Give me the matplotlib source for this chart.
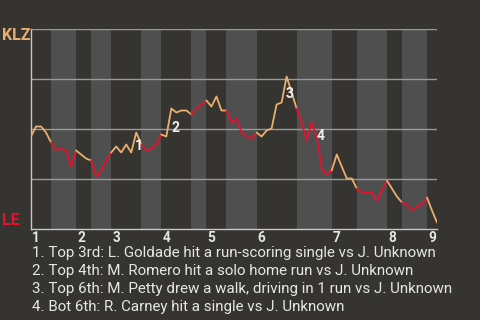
import matplotlib
matplotlib.use("Agg")
import matplotlib.pyplot as plt

plt.rcParams["font.family"] = ["Roboto", "DejaVu Sans"]

away_team = "KLZ"
home_team = "LE"

# KLZ win probability (%) after each plate appearance
win_prob = [46, 51, 51, 48, 43, 39, 40, 39, 31, 39,
            37, 35, 34, 26, 29, 34, 38, 41, 38, 42,
            38, 48, 42, 39, 40, 42, 47, 46, 60, 58,
            59, 59, 57, 60, 62, 64, 61, 66, 59, 59,
            53, 55, 48, 46, 45, 48, 46, 49, 50, 62,
            63, 76, 68, 60, 53, 44, 53, 46, 30, 27,
            29, 37, 31, 25, 25, 20, 18, 18, 18, 14,
            19, 24, 20, 16, 13, 12, 9, 11, 12, 15.5,
            9, 3]

# plate-appearance index where each half inning begins (top 1st, bot 1st, ...)
half_starts = [0, 4, 9, 12, 16, 22, 26, 32, 35, 39, 45, 53, 60, 65, 71, 74, 79]
inning_labels = ["1", "2", "3", "4", "5", "6", "7", "8", "9"]

# key plays: index of the plate appearance and its description
event_index = [21, 28, 51, 57]
event_text = [
    "Top 3rd: L. Goldade hit a run-scoring single vs J. Unknown",
    "Top 4th: M. Romero hit a solo home run vs J. Unknown",
    "Top 6th: M. Petty drew a walk, driving in 1 run vs J. Unknown",
    "Bot 6th: R. Carney hit a single vs J. Unknown",
]

BG = "#363430"
BAND = "#4f4f4f"
AWAY_C = "#e8b06c"
HOME_C = "#e8112d"
TEXT_C = "#e6e6e6"

fig = plt.figure(figsize=(4.8, 3.2), dpi=100, facecolor=BG)
ax = fig.add_axes([31 / 480, (320 - 228.5) / 320, 406 / 480, 200 / 320])
ax.set_facecolor(BG)

n_last = len(win_prob) - 1
xs = list(range(len(win_prob)))
bounds = half_starts + [n_last]

# half-inning shading: bottom halves lighter
for k in range(len(half_starts)):
    if k % 2 == 1:
        ax.axvspan(bounds[k], bounds[k + 1], color=BAND, lw=0, zorder=0)

# grid lines
for g in (25, 50, 75, 100):
    ax.axhline(g, color="#9a9a9a", lw=1.0, zorder=1)

# win probability line, coloured by the batting team
for k in range(len(half_starts)):
    s, e = bounds[k], bounds[k + 1]
    col = AWAY_C if k % 2 == 0 else HOME_C
    ax.plot(xs[s:e + 1], win_prob[s:e + 1], color=col, lw=1.3,
            solid_joinstyle="round", solid_capstyle="round", zorder=3)

# key play markers
offsets = [(3, -14), (4, -20), (3, -18), (4, 0)]
for j, (idx, off) in enumerate(zip(event_index, offsets)):
    ax.annotate(str(j + 1), xy=(idx, win_prob[idx]), xytext=off,
                textcoords="offset pixels", ha="center", va="center",
                fontsize=10, fontweight="bold", color="#f0f0f0", zorder=4)

ax.set_xlim(0, n_last)
ax.set_ylim(0, 100)
ax.set_yticks([])

inning_ticks = [half_starts[2 * i] + 1 for i in range(len(inning_labels))]
ax.set_xticks(inning_ticks)
ax.set_xticklabels(inning_labels, fontsize=9.8, fontweight="bold", color=TEXT_C)
ax.tick_params(axis="x", length=0, pad=2)

for side in ("top", "right"):
    ax.spines[side].set_visible(False)
for side in ("left", "bottom"):
    ax.spines[side].set_color("#c8c8c8")
    ax.spines[side].set_linewidth(1.0)

fig.text(2 / 480, 1 - 28 / 320, away_team, ha="left", va="top",
         fontsize=11.5, fontweight="bold", color=AWAY_C)
fig.text(2 / 480, 1 - 225 / 320, home_team, ha="left", va="baseline",
         fontsize=11.5, fontweight="bold", color=HOME_C)

for j, txt in enumerate(event_text):
    fig.text(32 / 480, 1 - (253 + 18 * j) / 320, f"{j + 1}. {txt}",
             ha="left", va="center", fontsize=10.9, color=TEXT_C)

fig.savefig("out.png", dpi=100, facecolor=BG)
